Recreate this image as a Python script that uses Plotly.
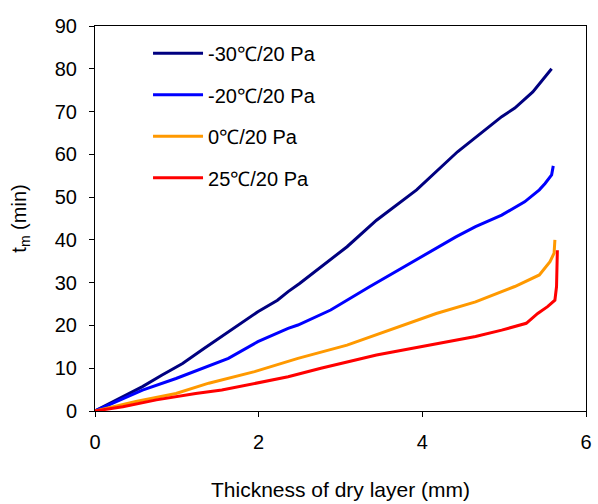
import plotly.graph_objects as go

names = ["-30℃/20 Pa", "-20℃/20 Pa", "0℃/20 Pa", "25℃/20 Pa"]
colors = ["#000080", "#0000FF", "#FF9900", "#FF0000"]

x_m30 = [0, 0.10, 0.34, 0.58, 0.82, 1.07, 1.31, 1.63, 1.99, 2.23, 2.36, 2.50, 2.76, 3.08, 3.44, 3.93, 4.43, 4.63, 4.97, 5.13, 5.35, 5.58]
y_m30 = [0, 1.0, 3.3, 5.7, 8.4, 11.1, 14.3, 18.5, 23.2, 25.9, 27.9, 29.8, 33.7, 38.4, 44.6, 51.7, 60.6, 63.7, 68.8, 70.8, 74.6, 80.0]

x_m20 = [0, 0.26, 0.58, 0.99, 1.31, 1.63, 1.99, 2.23, 2.36, 2.48, 2.88, 3.36, 3.93, 4.41, 4.65, 4.97, 5.25, 5.43, 5.50, 5.58, 5.60]
y_m20 = [0, 2.2, 4.9, 7.6, 10.0, 12.3, 16.2, 18.2, 19.3, 20.1, 23.6, 29.1, 35.3, 40.7, 43.1, 45.8, 48.9, 51.7, 53.2, 55.2, 57.3]

x_0 = [0, 0.50, 0.99, 1.39, 1.95, 2.36, 2.48, 3.08, 3.60, 4.17, 4.65, 4.81, 5.13, 5.43, 5.56, 5.61, 5.62]
y_0 = [0, 2.2, 4.1, 6.5, 9.2, 11.5, 12.3, 15.4, 18.9, 22.8, 25.5, 26.7, 29.1, 31.8, 34.9, 36.9, 40.0]

x_25 = [0, 0.34, 0.75, 1.23, 1.55, 1.87, 2.36, 2.76, 3.44, 4.65, 4.97, 5.27, 5.41, 5.53, 5.62, 5.64, 5.65, 5.65]
y_25 = [0, 1.0, 2.6, 4.1, 4.9, 6.1, 8.0, 10.0, 13.1, 17.4, 18.9, 20.5, 22.8, 24.4, 25.9, 29.1, 33.7, 37.6]

x_ticks = [0, 2, 4, 6]
y_ticks = [0, 10, 20, 30, 40, 50, 60, 70, 80, 90]

series = [(x_m30, y_m30), (x_m20, y_m20), (x_0, y_0), (x_25, y_25)]

fig = go.Figure()
for i, ((xs, ys), nm, c) in enumerate(zip(series, names, colors)):
    fig.add_trace(go.Scatter(x=xs, y=ys, mode="lines", name=nm,
                             line=dict(color=c, width=3),
                             legendgroup=f"g{i}"))

font = "Liberation Sans, Arial, sans-serif"
fig.update_layout(
    width=598, height=504,
    margin=dict(l=95, r=6, t=26, b=93),
    paper_bgcolor="white", plot_bgcolor="white",
    font=dict(family=font, size=20, color="black"),
    showlegend=True,
    legend=dict(x=0.108, y=0.980, xanchor="left", yanchor="top",
                bgcolor="rgba(0,0,0,0)", font=dict(size=20),
                itemwidth=50,
                tracegroupgap=12.5, traceorder="grouped"),
    xaxis=dict(range=[0, 6], tickvals=x_ticks, ticktext=[str(v) for v in x_ticks],
               showgrid=False, zeroline=False, showline=True, linecolor="black",
               linewidth=1, mirror=True, ticks="outside", ticklen=5,
               tickcolor="black", tickfont=dict(size=20), ticklabelstandoff=8,
               title=dict(text="Thickness of dry layer (mm)", standoff=30,
                          font=dict(size=21))),
    yaxis=dict(range=[0, 90], tickvals=y_ticks, ticktext=[str(v) for v in y_ticks],
               showgrid=False, zeroline=False, showline=True, linecolor="black",
               linewidth=1, mirror=True, ticks="outside", ticklen=5,
               tickcolor="black", tickfont=dict(size=20), ticklabelstandoff=8,
               title=dict(text="t<sub>m</sub> (min)", standoff=22,
                          font=dict(size=20))),
)

fig.write_html("out.html")
